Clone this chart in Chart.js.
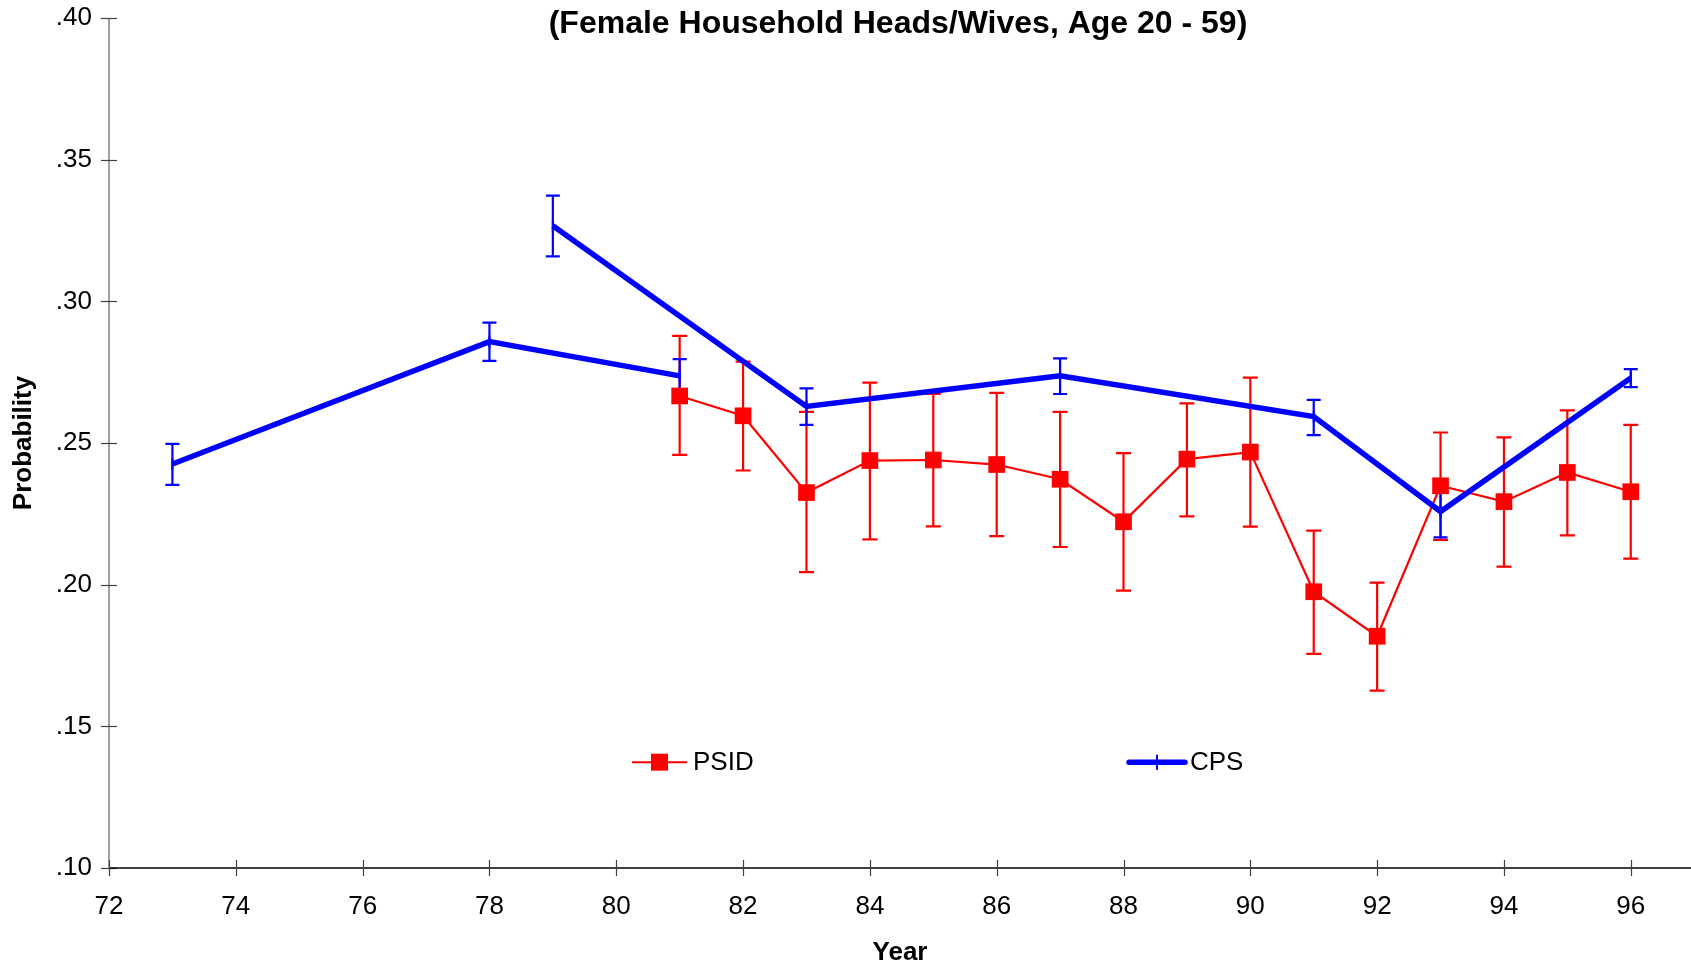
<!DOCTYPE html>
<html>
<head>
<meta charset="utf-8">
<script src="https://cdn.jsdelivr.net/npm/chart.js@4.4.1/dist/chart.umd.min.js"></script>
<style>
html, body { margin: 0; padding: 0; background: #ffffff; }
canvas { display: block; }
</style>
</head>
<body>
<canvas id="chart" width="1691" height="969"></canvas>
<script>
// ---------------- data ----------------
const chartTitle = '(Female Household Heads/Wives, Age 20 - 59)';
const xAxisTitle = 'Year';
const yAxisTitle = 'Probability';

const xTickValues = [72, 74, 76, 78, 80, 82, 84, 86, 88, 90, 92, 94, 96];
const yTickValues = [0.10, 0.15, 0.20, 0.25, 0.30, 0.35, 0.40];

const psidYears  = [81, 82, 83, 84, 85, 86, 87, 88, 89, 90, 91, 92, 93, 94, 95, 96];
const psidValues = [0.2666, 0.2596, 0.2325, 0.2438, 0.2440, 0.2424, 0.2372, 0.2222, 0.2443, 0.2468, 0.1975, 0.1818, 0.2349, 0.2293, 0.2396, 0.2328];
const psidLow    = [0.2458, 0.2403, 0.2044, 0.2160, 0.2206, 0.2171, 0.2133, 0.1979, 0.2241, 0.2205, 0.1756, 0.1626, 0.2158, 0.2064, 0.2174, 0.2092];
const psidHigh   = [0.2878, 0.2787, 0.2610, 0.2713, 0.2673, 0.2677, 0.2610, 0.2464, 0.2640, 0.2731, 0.2191, 0.2007, 0.2537, 0.2520, 0.2615, 0.2564];

// CPS: the line is drawn in this order; it breaks before index cpsBreakBefore
const cpsYears  = [73, 78, 81, 79, 83, 87, 91, 93, 96];
const cpsValues = [0.2426, 0.2858, 0.2737, 0.3267, 0.2629, 0.2737, 0.2593, 0.2258, 0.2729];
const cpsLow    = [0.2352, 0.2790, 0.2678, 0.3159, 0.2564, 0.2673, 0.2528, 0.2167, 0.2697];
const cpsHigh   = [0.2497, 0.2925, 0.2796, 0.3373, 0.2693, 0.2799, 0.2652, 0.2349, 0.2761];
const cpsBreakBefore = 3;

const seriesNames = ['PSID', 'CPS'];

// ---------------- build ----------------
const RED = '#ff0000';
const BLUE = '#0000ff';
const FONT = '"Liberation Sans", Arial, Helvetica, sans-serif';

const psidData = psidYears.map((x, i) => ({ x: x, y: psidValues[i] }));
const cpsData = [];
cpsYears.forEach((x, i) => {
  if (i === cpsBreakBefore) cpsData.push({ x: x, y: null });
  cpsData.push({ x: x, y: cpsValues[i] });
});

const errorBars = [
  { years: psidYears, low: psidLow, high: psidHigh, color: RED, width: 2.2, cap: 7.5 },
  { years: cpsYears,  low: cpsLow,  high: cpsHigh,  color: BLUE, width: 2.2, cap: 7 }
];

const errorBarPlugin = {
  id: 'errorBars',
  beforeDatasetsDraw(chart) {
    const ctx = chart.ctx;
    const xs = chart.scales.x, ys = chart.scales.y;
    ctx.save();
    errorBars.forEach(eb => {
      ctx.strokeStyle = eb.color;
      ctx.lineWidth = eb.width;
      ctx.lineCap = 'butt';
      eb.years.forEach((yr, i) => {
        const px = xs.getPixelForValue(yr);
        const pl = ys.getPixelForValue(eb.low[i]);
        const ph = ys.getPixelForValue(eb.high[i]);
        ctx.beginPath();
        ctx.moveTo(px, pl); ctx.lineTo(px, ph);
        ctx.moveTo(px - eb.cap, pl); ctx.lineTo(px + eb.cap, pl);
        ctx.moveTo(px - eb.cap, ph); ctx.lineTo(px + eb.cap, ph);
        ctx.stroke();
      });
    });
    ctx.restore();
  }
};

const axesPlugin = {
  id: 'axesLines',
  beforeDatasetsDraw(chart) {
    const ctx = chart.ctx;
    const a = chart.chartArea;
    const xs = chart.scales.x, ys = chart.scales.y;
    ctx.save();
    // y axis
    ctx.strokeStyle = '#808080';
    ctx.lineWidth = 1.5;
    ctx.beginPath();
    ctx.moveTo(a.left, a.top); ctx.lineTo(a.left, a.bottom);
    ctx.stroke();
    ctx.strokeStyle = '#404040';
    ctx.lineWidth = 1.2;
    yTickValues.forEach(v => {
      const py = Math.round(ys.getPixelForValue(v)) + 0.5;
      ctx.beginPath();
      ctx.moveTo(a.left - 8, py); ctx.lineTo(a.left + 8, py);
      ctx.stroke();
    });
    // x axis
    ctx.strokeStyle = '#000000';
    ctx.lineWidth = 1.5;
    ctx.beginPath();
    ctx.moveTo(a.left, a.bottom); ctx.lineTo(a.right, a.bottom);
    ctx.stroke();
    ctx.strokeStyle = '#404040';
    ctx.lineWidth = 1.2;
    xTickValues.forEach(v => {
      const px = Math.round(xs.getPixelForValue(v)) + 0.5;
      ctx.beginPath();
      ctx.moveTo(px, a.bottom - 8); ctx.lineTo(px, a.bottom + 8);
      ctx.stroke();
    });
    ctx.restore();
  }
};

const titleLegendPlugin = {
  id: 'titleLegend',
  afterDraw(chart) {
    const ctx = chart.ctx;
    const a = chart.chartArea;
    ctx.save();
    // title
    ctx.fillStyle = '#000';
    ctx.font = 'bold 32px ' + FONT;
    ctx.textAlign = 'center';
    ctx.textBaseline = 'middle';
    ctx.fillText(chartTitle, (a.left + a.right) / 2 - 2, 24);

    // legend
    const ly = a.top + (a.bottom - a.top) * 0.8755;
    ctx.font = '26px ' + FONT;
    ctx.textAlign = 'left';
    ctx.textBaseline = 'middle';
    // PSID
    let lx = a.left + 523;
    ctx.strokeStyle = RED; ctx.lineWidth = 2;
    ctx.beginPath(); ctx.moveTo(lx, ly); ctx.lineTo(lx + 55, ly); ctx.stroke();
    ctx.fillStyle = RED;
    ctx.fillRect(lx + 27.5 - 8.5, ly - 8.5, 17, 17);
    ctx.fillStyle = '#000';
    ctx.fillText(seriesNames[0], lx + 61, ly + 1);
    // CPS
    lx = a.left + 1020;
    ctx.strokeStyle = BLUE; ctx.lineWidth = 5.5; ctx.lineCap = 'round';
    ctx.beginPath(); ctx.moveTo(lx, ly); ctx.lineTo(lx + 56, ly); ctx.stroke();
    ctx.lineWidth = 2; ctx.lineCap = 'butt';
    ctx.beginPath(); ctx.moveTo(lx + 28, ly - 7.5); ctx.lineTo(lx + 28, ly + 7.5); ctx.stroke();
    ctx.fillStyle = '#000';
    ctx.fillText(seriesNames[1], lx + 61, ly + 1);
    ctx.restore();
  }
};

new Chart(document.getElementById('chart'), {
  type: 'line',
  data: {
    datasets: [
      {
        label: seriesNames[0],
        data: psidData,
        borderColor: RED,
        backgroundColor: RED,
        borderWidth: 2.2,
        pointStyle: 'rect',
        pointRadius: 11.8,
        pointBorderWidth: 0,
        pointBackgroundColor: RED,
        tension: 0,
        order: 2
      },
      {
        label: seriesNames[1],
        data: cpsData,
        borderColor: BLUE,
        backgroundColor: BLUE,
        borderWidth: 5.5,
        pointStyle: 'line',
        rotation: 90,
        pointRadius: 6,
        pointBorderWidth: 2,
        pointBorderColor: BLUE,
        spanGaps: false,
        tension: 0,
        order: 1
      }
    ]
  },
  options: {
    responsive: false,
    animation: false,
    devicePixelRatio: 1,
    layout: { autoPadding: false, padding: { top: 18, left: 0, right: 0, bottom: 0 } },
    plugins: {
      legend: { display: false },
      title: { display: false },
      tooltip: { enabled: false }
    },
    scales: {
      x: {
        type: 'linear',
        min: 72,
        max: 96.95,
        afterBuildTicks: s => { s.ticks = xTickValues.map(v => ({ value: v })); },
        afterFit: s => { s.height = 101; s.paddingLeft = 0; s.paddingRight = 0; },
        grid: { display: false, drawTicks: true, tickLength: 23 },
        border: { display: false },
        ticks: {
          autoSkip: false,
          maxRotation: 0,
          padding: 0,
          color: '#000',
          font: { family: FONT, size: 26 },
          callback: v => String(v)
        },
        title: {
          display: true,
          text: xAxisTitle,
          color: '#000',
          font: { family: FONT, size: 26, weight: 'bold' },
          padding: { top: 0, bottom: 1 }
        }
      },
      y: {
        type: 'linear',
        min: 0.10,
        max: 0.40,
        afterBuildTicks: s => { s.ticks = yTickValues.map(v => ({ value: v })); },
        afterFit: s => { s.width = 109; s.paddingTop = 0; s.paddingBottom = 0; },
        grid: { display: false, drawTicks: true, tickLength: 17 },
        border: { display: false },
        ticks: {
          padding: 0,
          color: '#000',
          font: { family: FONT, size: 26 },
          callback: v => Number(v).toFixed(2).replace(/^0/, '')
        },
        title: {
          display: true,
          text: yAxisTitle,
          color: '#000',
          font: { family: FONT, size: 26, weight: 'bold' },
          padding: { top: 8, bottom: 0 }
        }
      }
    }
  },
  plugins: [axesPlugin, errorBarPlugin, titleLegendPlugin]
});
</script>
</body>
</html>
